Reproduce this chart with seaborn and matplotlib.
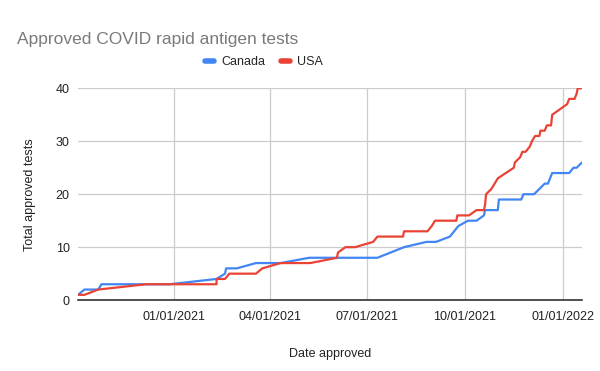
import pandas as pd
import matplotlib
matplotlib.use("Agg")
import matplotlib.pyplot as plt
import matplotlib.dates as mdates
from matplotlib.lines import Line2D
import seaborn as sns

canada_dates = ["2020-10-03", "2020-10-09", "2020-10-22", "2020-10-25", "2020-12-28",
                "2021-02-10", "2021-02-18", "2021-02-19", "2021-03-01", "2021-03-19",
                "2021-04-11", "2021-05-08", "2021-07-11", "2021-08-05", "2021-08-26",
                "2021-09-04", "2021-09-17", "2021-09-25", "2021-10-04", "2021-10-12",
                "2021-10-19", "2021-10-20", "2021-11-01", "2021-11-02", "2021-11-23",
                "2021-11-25", "2021-12-05", "2021-12-10", "2021-12-15", "2021-12-18",
                "2021-12-22", "2022-01-07", "2022-01-11", "2022-01-14", "2022-01-19"]
canada_values = [1, 2, 2, 3, 3,
                 4, 5, 6, 6, 7,
                 7, 8, 8, 10, 11,
                 11, 12, 14, 15, 15,
                 16, 17, 17, 19, 19,
                 20, 20, 21, 22, 22,
                 24, 24, 25, 25, 26]

usa_dates = ["2020-10-03", "2020-10-09", "2020-10-22", "2020-12-06", "2021-02-10",
             "2021-02-10", "2021-02-18", "2021-02-22", "2021-03-19", "2021-03-25",
             "2021-04-11", "2021-05-09", "2021-06-03", "2021-06-04", "2021-06-11",
             "2021-06-20", "2021-07-07", "2021-07-11", "2021-08-04", "2021-08-05",
             "2021-08-27", "2021-08-31", "2021-09-03", "2021-09-23", "2021-09-24",
             "2021-10-05", "2021-10-12", "2021-10-19", "2021-10-20", "2021-10-21",
             "2021-10-26", "2021-10-29", "2021-11-01", "2021-11-16", "2021-11-17",
             "2021-11-22", "2021-11-24", "2021-11-27", "2021-12-01", "2021-12-03",
             "2021-12-06", "2021-12-10", "2021-12-11", "2021-12-15", "2021-12-17",
             "2021-12-21", "2021-12-22", "2021-12-29", "2022-01-05", "2022-01-07",
             "2022-01-12", "2022-01-14", "2022-01-15", "2022-01-19"]
usa_values = [1, 1, 2, 3, 3,
              4, 4, 5, 5, 6,
              7, 7, 8, 9, 10,
              10, 11, 12, 12, 13,
              13, 14, 15, 15, 16,
              16, 17, 17, 18, 20,
              21, 22, 23, 25, 26,
              27, 28, 28, 29, 30,
              31, 31, 32, 32, 33,
              33, 35, 36, 37, 38,
              38, 39, 40, 40]

y_ticks = [0, 10, 20, 30, 40]
x_tick_dates = ["2021-01-01", "2021-04-01", "2021-07-01", "2021-10-01", "2022-01-01"]

df_ca = pd.DataFrame({"date": pd.to_datetime(canada_dates), "value": canada_values})
df_us = pd.DataFrame({"date": pd.to_datetime(usa_dates), "value": usa_values})

sns.set_theme(style="white")
plt.rcParams["font.family"] = ["Liberation Sans", "DejaVu Sans"]

blue = "#4285F4"
red = "#EA4335"

fig = plt.figure(figsize=(6, 3.71), dpi=100)
ax = fig.add_axes([0.13, 0.191, 0.84, 0.571])

sns.lineplot(data=df_ca, x="date", y="value", ax=ax, color=blue, linewidth=1.6,
             estimator=None, sort=False)
sns.lineplot(data=df_us, x="date", y="value", ax=ax, color=red, linewidth=1.6,
             estimator=None, sort=False)

ax.set_xlim(pd.Timestamp("2020-10-03"), pd.Timestamp("2022-01-19"))
ax.set_ylim(0, 40)
ax.set_yticks(y_ticks)
ax.set_xticks(pd.to_datetime(x_tick_dates))
ax.xaxis.set_major_formatter(mdates.DateFormatter("%m/%d/%Y"))

ax.grid(True, color="#cccccc", linewidth=0.9)
ax.set_axisbelow(True)
for s in ["top", "right", "left"]:
    ax.spines[s].set_visible(False)
ax.spines["bottom"].set_color("#333333")
ax.spines["bottom"].set_linewidth(1.2)
ax.tick_params(axis="both", length=0, labelsize=9, colors="#222222", pad=6)
ax.tick_params(axis="x", pad=8)

ax.set_xlabel("Date approved", fontsize=9, color="#222222", labelpad=18)
ax.set_ylabel("Total approved tests", fontsize=9, color="#222222", labelpad=14)

fig.text(0.028, 0.893, "Approved COVID rapid antigen tests", fontsize=12.5,
         color="#7a7a7a", ha="left", va="center")

handles = [Line2D([0], [0], color=blue, linewidth=4),
           Line2D([0], [0], color=red, linewidth=4)]
fig.legend(handles, ["Canada", "USA"], loc="center", bbox_to_anchor=(0.44, 0.833),
           ncol=2, frameon=False, fontsize=9, handlelength=0.75, handletextpad=0.6,
           columnspacing=1.2)

fig.savefig("out.png", dpi=100)
